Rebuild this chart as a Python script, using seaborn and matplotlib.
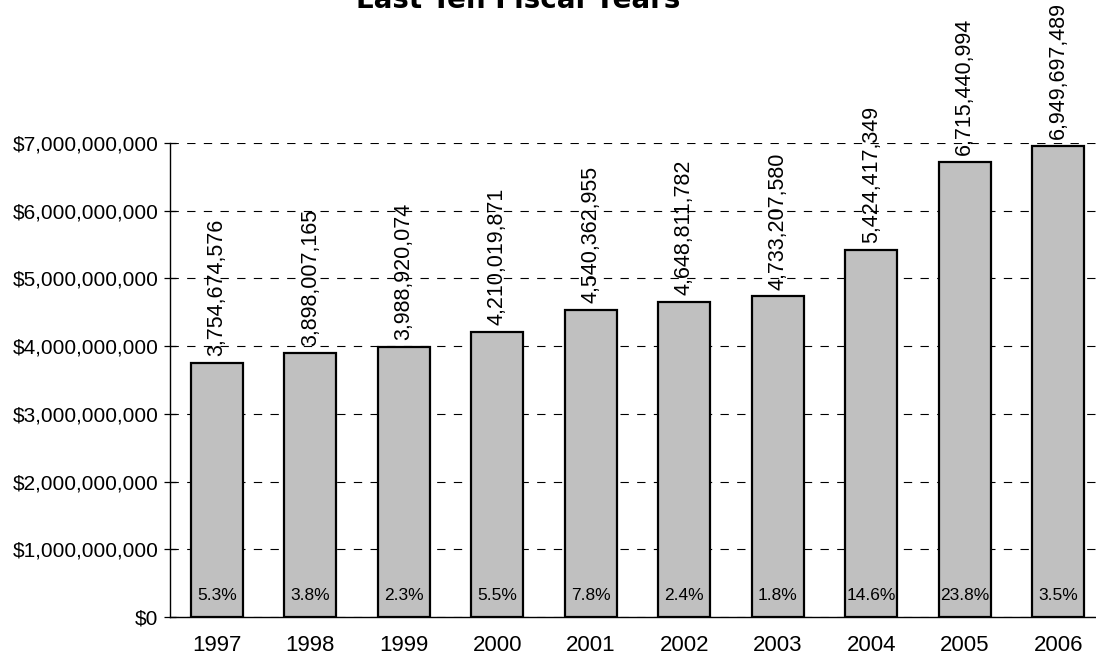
import matplotlib
matplotlib.use("Agg")
import matplotlib.pyplot as plt
from matplotlib.ticker import FuncFormatter, MultipleLocator
import seaborn as sns
import pandas as pd

# Fiscal years and total amounts
years = ["1997", "1998", "1999", "2000", "2001", "2002", "2003", "2004", "2005", "2006"]
totals = [3754674576, 3898007165, 3988920074, 4210019871, 4540362955,
          4648811782, 4733207580, 5424417349, 6715440994, 6949697489]
# Year-over-year growth shown inside each bar
growth_pct = [5.3, 3.8, 2.3, 5.5, 7.8, 2.4, 1.8, 14.6, 23.8, 3.5]

title = "Last Ten Fiscal Years"

sns.set_theme(style="white")
plt.rcParams["font.family"] = ["Liberation Sans", "DejaVu Sans"]
plt.rcParams["lines.scale_dashes"] = False
plt.rcParams["text.color"] = "black"

df = pd.DataFrame({"year": years, "total": totals})

fig = plt.figure(figsize=(10.96, 6.56), dpi=100)
ax = fig.add_axes([170 / 1096, 39 / 656, 935 / 1096, 474 / 656])

sns.barplot(data=df, x="year", y="total", color="#C0C0C0", saturation=1,
            edgecolor="black", linewidth=1.6, width=0.56, ax=ax, zorder=3)

ax.set_ylim(0, 7e9)
ax.set_xlim(-0.5, 9.5)
ax.yaxis.set_major_locator(MultipleLocator(1e9))
ax.yaxis.set_major_formatter(FuncFormatter(lambda v, _: f"${v:,.0f}"))
ax.grid(axis="y", color="black", linewidth=0.8, linestyle=(0, (6, 6)), zorder=0)
ax.grid(axis="x", visible=False)
ax.set_axisbelow(True)

for side in ("top", "right"):
    ax.spines[side].set_visible(False)
for side in ("left", "bottom"):
    ax.spines[side].set_color("black")
    ax.spines[side].set_linewidth(1.0)

ax.tick_params(axis="y", direction="inout", length=9, width=0.9, color="black",
               labelsize=15, labelcolor="black", pad=4, left=True)
ax.tick_params(axis="x", length=0, labelsize=16, labelcolor="black", pad=13)
ax.set_xlabel("")
ax.set_ylabel("")

# Amount labels above each bar, rotated
for i, v in enumerate(totals):
    ax.annotate(f"{v:,}", xy=(i, v), xytext=(0, 5), textcoords="offset points",
                rotation=90, ha="center", va="bottom", fontsize=15.5,
                color="black", annotation_clip=False, zorder=5)

# Growth percentages near the base of each bar
for i, p in enumerate(growth_pct):
    ax.text(i, 0.32e9, f"{p}%", ha="center", va="center", fontsize=12.5,
            color="black", zorder=5)

fig.text(518 / 1096, (656 - 8) / 656, title, ha="center", va="baseline",
         fontsize=20, fontweight="bold", family=["DejaVu Sans"], color="black")

fig.savefig("out.png", dpi=100)
